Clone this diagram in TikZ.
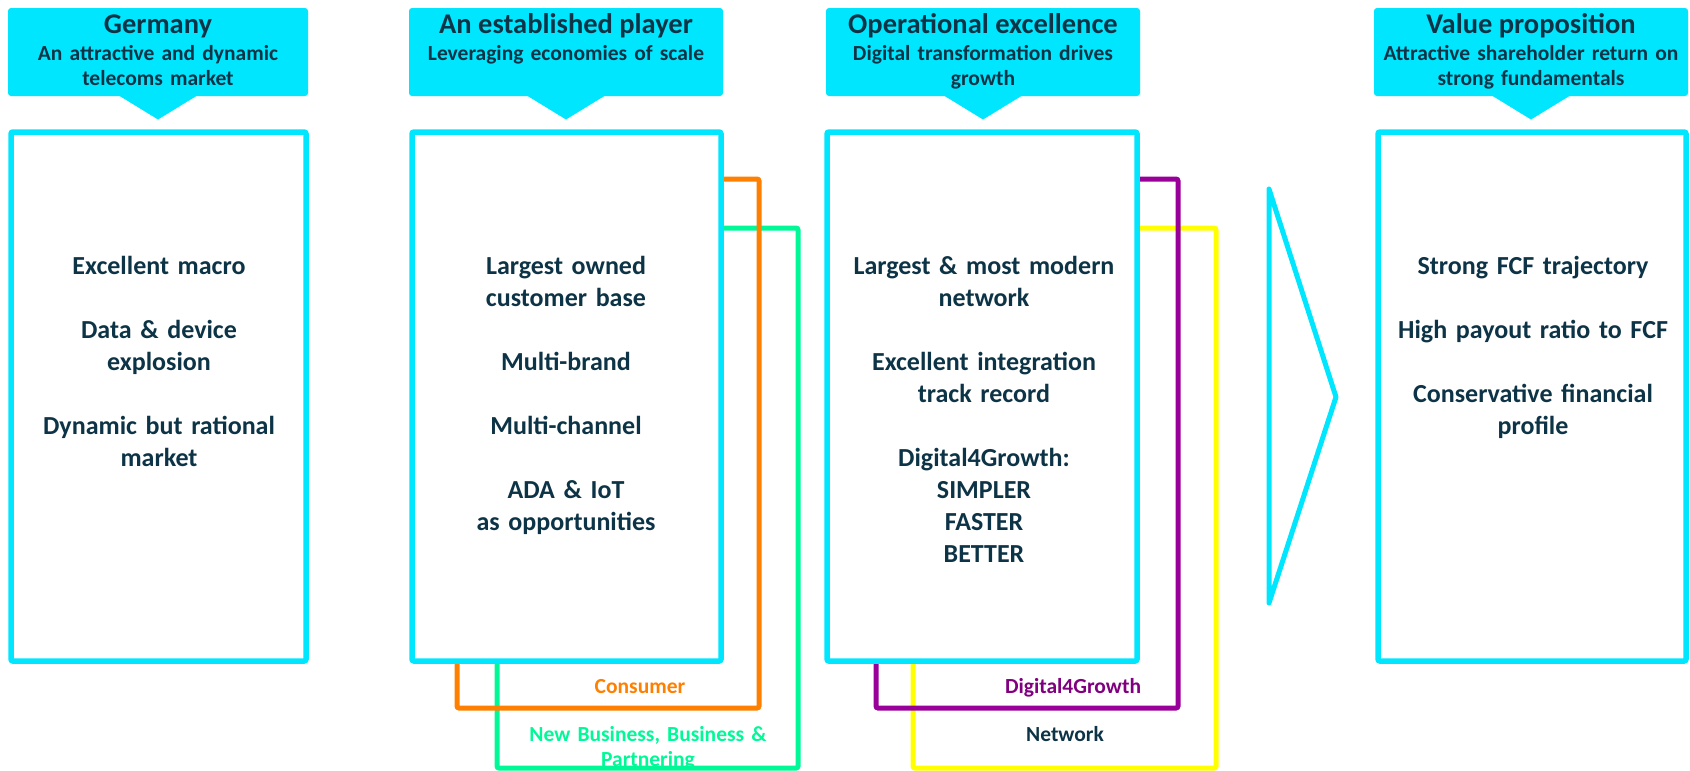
\documentclass[tikz,border=0pt]{standalone}
\usepackage{fontspec}
\setmainfont{Carlito}
\definecolor{cy}{HTML}{00E6FF}
\definecolor{org}{HTML}{FF7F00}
\definecolor{grn}{HTML}{00F996}
\definecolor{pur}{HTML}{990099}
\definecolor{purtxt}{HTML}{800080}
\definecolor{ylw}{HTML}{FFFF00}
\definecolor{navy}{HTML}{0D3446}
\begin{document}
\begin{tikzpicture}[x=1pt,y=-1pt,
  hdr/.style={fill=cy, rounded corners=3pt},
  mainbox/.style={draw=cy, line width=5.5pt, fill=white, rounded corners=2pt},
  sidebox/.style={line width=5pt, rounded corners=2pt},
  titletxt/.style={font=\fontsize{28.5}{32}\selectfont\bfseries, text=navy, inner sep=0pt, anchor=base},
  subtxt/.style={font=\fontsize{21.5}{25}\selectfont\bfseries, text=navy, inner sep=0pt, anchor=north, align=center, text width=310pt},
  bodytxt/.style={font=\fontsize{26}{32}\selectfont\bfseries, text=navy, inner sep=0pt, anchor=north, align=center, text width=300pt},
  labeltxt/.style={font=\fontsize{21.5}{25}\selectfont\bfseries, inner sep=0pt, anchor=base}
]
\useasboundingbox (0,0) rectangle (1690,771);

% ---------- headers ----------
\fill[hdr] (8,8) rectangle (308,96);
\fill[cy] (118,95) -- (158,119.5) -- (198,95) -- cycle;
\fill[hdr] (409,8) rectangle (723,96);
\fill[cy] (526,95) -- (566,119.5) -- (606,95) -- cycle;
\fill[hdr] (826,8) rectangle (1140,96);
\fill[cy] (943,95) -- (983,119.5) -- (1023,95) -- cycle;
\fill[hdr] (1374,8) rectangle (1688,96);
\fill[cy] (1491,95) -- (1531,119.5) -- (1571,95) -- cycle;

\node[titletxt] (t1) at (158,33) {Germany};
\node[subtxt] (s1) at (158,42.5) {\strut An attractive and dynamic\\telecoms market};
\node[titletxt] (t2) at (566,33) {An established player};
\node[subtxt] (s2) at (566,42.5) {\strut Leveraging economies of scale};
\node[titletxt] (t3) at (983,33) {Operational excellence};
\node[subtxt] (s3) at (983,42.5) {\strut Digital transformation drives\\growth};
\node[titletxt] (t4) at (1531,33) {Value proposition};
\node[subtxt] (s4) at (1531,42.5) {\strut Attractive shareholder return on\\strong fundamentals};

% ---------- side boxes ----------
\draw[sidebox, draw=grn] (497,228) rectangle (798,768);
\draw[sidebox, draw=org] (457,179) rectangle (759,708);
\draw[sidebox, draw=ylw] (913,228) rectangle (1216,768);
\draw[sidebox, draw=pur] (876,179) rectangle (1178,708);

% ---------- main boxes ----------
\draw[mainbox] (11,132) rectangle (306,661);
\draw[mainbox] (412,132) rectangle (721,661);
\draw[mainbox] (827,132) rectangle (1137,661);
\draw[mainbox] (1378,132) rectangle (1686,661);

% ---------- triangle ----------
\draw[cy, line width=5pt, line join=round, line cap=round] (1269,189) -- (1336,397) -- (1269,603) -- cycle;

% ---------- body texts ----------
\node[bodytxt] (b1) at (159,251.6) {\strut Excellent macro\\[32pt]Data \& device\\explosion\\[32pt]Dynamic but rational\\market};
\node[bodytxt] (b2) at (566,251.6) {\strut Largest owned\\customer base\\[32pt]Multi-brand\\[32pt]Multi-channel\\[32pt]ADA \& IoT\\as opportunities};
\node[bodytxt] (b3) at (984,251.6) {\strut Largest \& most modern\\network\\[32pt]Excellent integration\\track record\\[32pt]Digital4Growth:\\SIMPLER\\FASTER\\BETTER};
\node[bodytxt] (b4) at (1533,251.6) {\strut Strong FCF trajectory\\[32pt]High payout ratio to FCF\\[32pt]Conservative financial\\profile};

% ---------- labels ----------
\node[labeltxt, text=org] (lc) at (640,693) {Consumer};
\node[labeltxt, text=grn, anchor=north, align=center, text width=300pt] (ln) at (648,723.5) {\strut New Business, Business \&\\Partnering};
\node[labeltxt, text=purtxt] (ld) at (1073,693) {Digital4Growth};
\node[labeltxt, text=navy] (lw) at (1065,741) {Network};
\end{tikzpicture}
\end{document}
